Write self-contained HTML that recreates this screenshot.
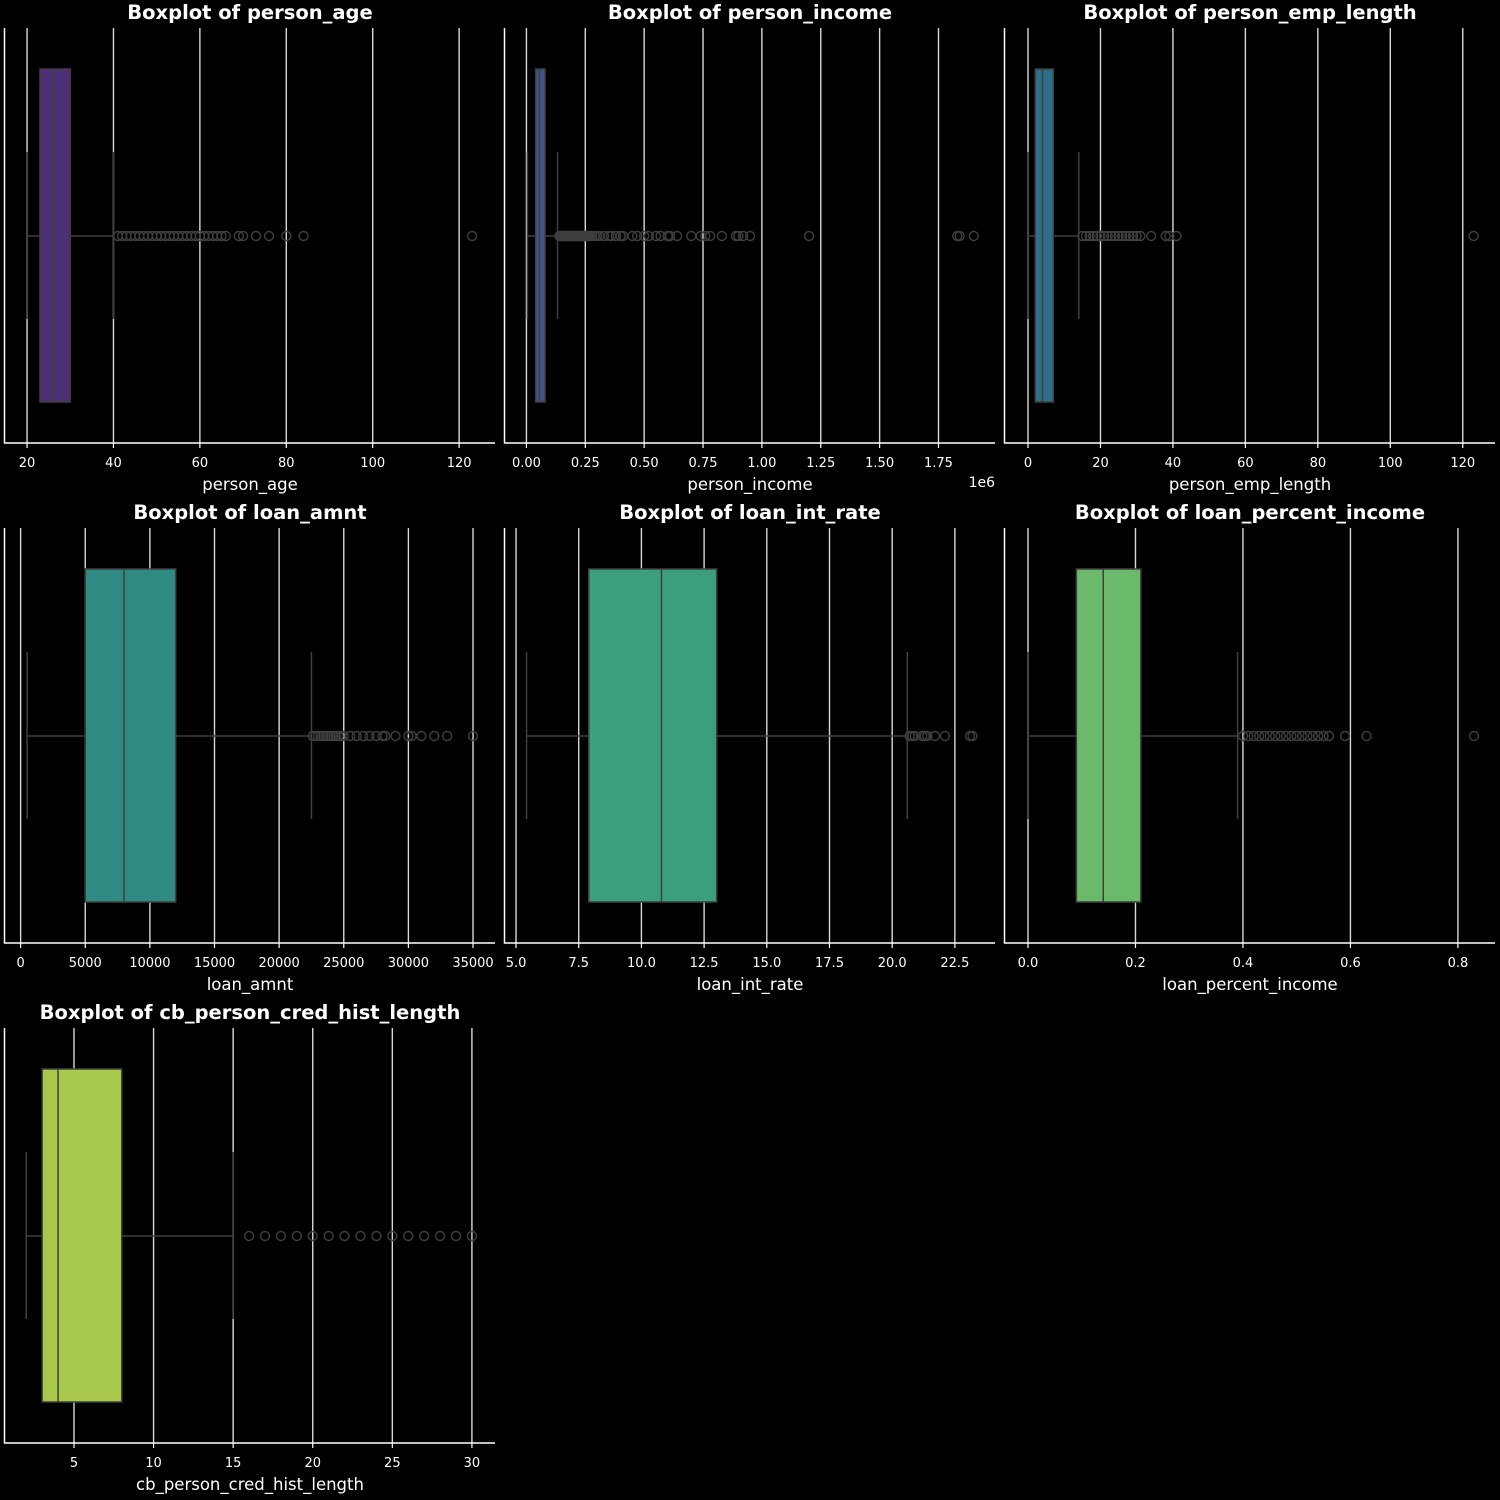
<!DOCTYPE html>
<html><head><meta charset="utf-8"><style>
html,body{margin:0;padding:0;background:#000;}
svg{display:block;font-family:"DejaVu Sans","Liberation Sans",sans-serif;}
</style></head><body>
<svg id="c" width="1500" height="1500" viewBox="0 0 1500 1500"></svg>
<script>
const panelNames = ["person_age","person_income","person_emp_length","loan_amnt","loan_int_rate","loan_percent_income","cb_person_cred_hist_length"];
const panelColors = ["#4b3077","#3d558a","#2b6f8a","#2f8a84","#3b9f7e","#6bba6c","#a9c94c"];
// stats: [whiskerLow, q1, median, q3, whiskerHigh]
const statsAge = [20, 23, 26, 30, 40];
const statsIncome = [0.004, 0.039, 0.055, 0.079, 0.132];
const statsEmp = [0, 2, 4, 7, 14];
const statsAmnt = [500, 5000, 8000, 12000, 22500];
const statsInt = [5.42, 7.9, 10.8, 13.0, 20.6];
const statsPct = [0, 0.09, 0.14, 0.21, 0.39];
const statsCb = [2, 3, 4, 8, 15];
const outAge = [41,42,43,44,45,46,47,48,49,50,51,52,53,54,55,56,57,58,59,60,61,62,63,64,65,66,69,70,73,76,80,84,123];
const outIncome = [0.14,0.145,0.15,0.155,0.16,0.165,0.17,0.175,0.18,0.185,0.19,0.195,0.2,0.205,0.21,0.215,0.22,0.225,0.23,0.235,0.24,0.245,0.25,0.255,0.26,0.265,0.27,0.28,0.29,0.3,0.31,0.33,0.35,0.36,0.38,0.4,0.41,0.45,0.47,0.5,0.52,0.55,0.57,0.6,0.61,0.64,0.7,0.74,0.76,0.78,0.83,0.89,0.9,0.92,0.95,1.2,1.83,1.84,1.9];
const outEmp = [15,16,17,18,19,20,21,22,23,24,25,26,27,28,29,30,31,34,38,39,41,123];
const outAmnt = [22600,22800,23000,23200,23400,23600,23800,24000,24200,24400,24600,24800,25000,25500,26000,26500,27000,27500,28000,28200,29000,30000,30250,31000,32000,33000,35000];
const outInt = [20.7,20.8,20.9,21.2,21.3,21.4,21.7,22.1,23.1,23.2];
const outPct = [0.4,0.41,0.42,0.43,0.44,0.45,0.46,0.47,0.48,0.49,0.5,0.51,0.52,0.53,0.54,0.55,0.56,0.59,0.63,0.83];
const outCb = [16,17,18,19,20,21,22,23,24,25,26,27,28,29,30];
const ticksAge = [20,40,60,80,100,120];
const ticksIncome = [0,0.25,0.5,0.75,1.0,1.25,1.5,1.75];
const ticksEmp = [0,20,40,60,80,100,120];
const ticksAmnt = [0,5000,10000,15000,20000,25000,30000,35000];
const ticksInt = [5,7.5,10,12.5,15,17.5,20,22.5];
const ticksPct = [0,0.2,0.4,0.6,0.8];
const ticksCb = [5,10,15,20,25,30];
const tickLabelsIncome = ["0.00","0.25","0.50","0.75","1.00","1.25","1.50","1.75"];
const tickLabelsInt = ["5.0","7.5","10.0","12.5","15.0","17.5","20.0","22.5"];
const tickLabelsPct = ["0.0","0.2","0.4","0.6","0.8"];
// x domains [min,max] spanning the axes width
const domains = [[14.9,128.3],[-0.091,1.99],[-6.35,128.9],[-1208,36700],[4.56,24.1],[-0.0428,0.869],[0.667,31.45]];
const allStats=[statsAge,statsIncome,statsEmp,statsAmnt,statsInt,statsPct,statsCb];
const allOut=[outAge,outIncome,outEmp,outAmnt,outInt,outPct,outCb];
const allTicks=[ticksAge,ticksIncome,ticksEmp,ticksAmnt,ticksInt,ticksPct,ticksCb];
const allLabels=[null,tickLabelsIncome,null,null,tickLabelsInt,tickLabelsPct,null];

const svg=document.getElementById('c');
const NS='http://www.w3.org/2000/svg';
function mk(tag,attrs,parent){const e=document.createElementNS(NS,tag);for(const k in attrs)e.setAttribute(k,attrs[k]);parent.appendChild(e);return e;}

for(let p=0;p<7;p++){
  const ox=(p%3)*500, oy=Math.floor(p/3)*500;
  const L=ox+5,R=ox+495,T=oy+28,B=oy+443;
  const [d0,d1]=domains[p];
  const sx=v=>L+(v-d0)/(d1-d0)*(R-L);
  const g=mk('g',{},svg);
  
  
  allTicks[p].forEach((t,i)=>{
    const x=sx(t);
    const gl=mk('line',{x1:x,x2:x,y1:T,y2:B,stroke:'#d8d8d8','stroke-width':1.4},g);
    
    
    mk('line',{x1:x,x2:x,y1:B,y2:B+5,stroke:'#fff','stroke-width':1.2},g);
    const tx=mk('text',{x:x,y:oy+467,'font-size':13,fill:'#fff','text-anchor':'middle'},g);
    tx.textContent=allLabels[p]?allLabels[p][i]:String(t);
    
    
  });
  const s=allStats[p], cy=oy+236, c=panelColors[p], wc='#3f3f3f';
  mk('line',{x1:sx(s[0]),x2:sx(s[1]),y1:cy,y2:cy,stroke:wc,'stroke-width':1.5},g);
  mk('line',{x1:sx(s[3]),x2:sx(s[4]),y1:cy,y2:cy,stroke:wc,'stroke-width':1.5},g);
  mk('line',{x1:sx(s[0]),x2:sx(s[0]),y1:oy+152,y2:oy+319,stroke:wc,'stroke-width':1.5},g);
  mk('line',{x1:sx(s[4]),x2:sx(s[4]),y1:oy+152,y2:oy+319,stroke:wc,'stroke-width':1.5},g);
  const box=mk('rect',{x:sx(s[1]),y:oy+69,width:sx(s[3])-sx(s[1]),height:333,fill:c,stroke:wc,'stroke-width':1.5},g);
  
  
  mk('line',{x1:sx(s[2]),x2:sx(s[2]),y1:oy+69,y2:oy+402,stroke:wc,'stroke-width':1.5},g);
  allOut[p].forEach(v=>{
    const o=mk('circle',{cx:sx(v),cy:cy,r:4.5,fill:'none',stroke:wc,'stroke-width':1.4},g);
    
    
  });
  mk('line',{x1:L-0.5,x2:L-0.5,y1:T,y2:B+0.5,stroke:'#fff','stroke-width':1.5},g);
  mk('line',{x1:L-1,x2:R,y1:B,y2:B,stroke:'#fff','stroke-width':1.5},g);
  const ti=mk('text',{x:(L+R)/2,y:oy+19,'font-size':19.5,'font-weight':'bold',fill:'#fff','text-anchor':'middle'},g);
  ti.textContent='Boxplot of '+panelNames[p];
  
  
  const xl=mk('text',{x:(L+R)/2,y:oy+490,'font-size':16.5,fill:'#fff','text-anchor':'middle'},g);
  xl.textContent=panelNames[p];
  
  
  if(p===1){
    const sc=mk('text',{x:ox+495,y:oy+487,'font-size':14,fill:'#fff','text-anchor':'end'},g);
    sc.textContent='1e6';
    
    
  }
}
</script>
</body></html>
